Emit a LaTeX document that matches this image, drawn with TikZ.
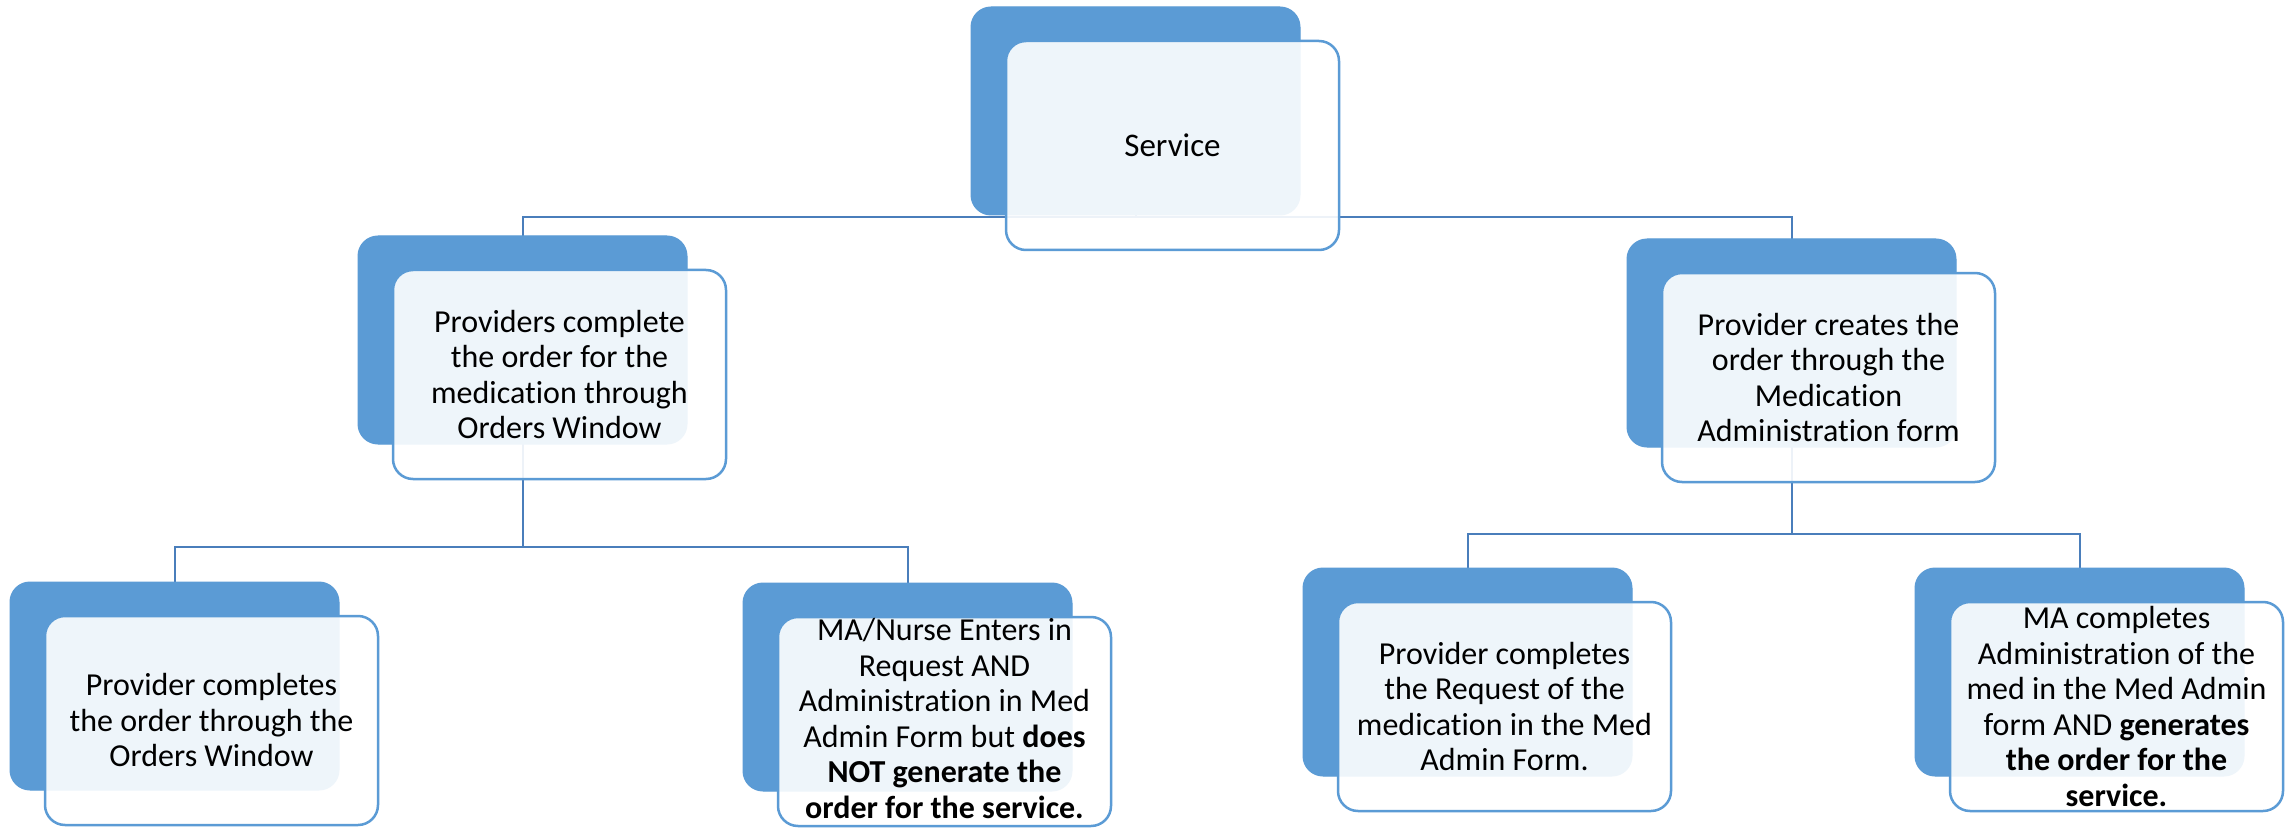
\documentclass[tikz,border=0pt]{standalone}
\usepackage{fontspec}
\setmainfont{Carlito}[Ligatures=NoCommon]
\usetikzlibrary{backgrounds}
\definecolor{acc}{HTML}{5B9BD5}
\definecolor{conncol}{HTML}{4A7EBB}
\begin{document}
\begin{tikzpicture}[x=1pt,y=-1pt,
  backbox/.style={draw=acc, fill=acc, line width=1, rounded corners=20, minimum width=329, minimum height=208, inner sep=0, outer sep=0},
  frontbox/.style={draw=acc, line width=2.5, fill=white, fill opacity=0.9, rounded corners=20, minimum width=333, minimum height=209, inner sep=0, outer sep=0},
  txt/.style={align=center, font=\fontsize{32}{35.5}\selectfont, text=black, inner sep=0},
  conn/.style={draw=conncol, line width=2}]
\useasboundingbox (0,0) rectangle (2295,829);
% back shapes
\node[backbox] (Sb)  at (1135.5,111) {};
\node[backbox] (L1b) at (522.5,340) {};
\node[backbox] (R1b) at (1791.5,343) {};
\node[backbox] (LLb) at (174.5,686) {};
\node[backbox] (LRb) at (907.5,687) {};
\node[backbox] (RLb) at (1467.5,672) {};
\node[backbox] (RRb) at (2079.5,672) {};
% front shapes
\node[frontbox] (Sf)  at (1172.5,145.5) {};
\node[frontbox] (L1f) at (559.5,374.5) {};
\node[frontbox] (R1f) at (1828.5,377.5) {};
\node[frontbox] (LLf) at (211.5,720.5) {};
\node[frontbox] (LRf) at (944.5,721.5) {};
\node[frontbox] (RLf) at (1504.5,706.5) {};
\node[frontbox] (RRf) at (2116.5,706.5) {};
% texts
\node[txt, font=\fontsize{33}{38}\selectfont] (St) at (Sf.center) {Service};
\node[txt] (L1t) at (L1f.center) {Providers complete\\the order for the\\medication through\\Orders Window};
\node[txt] (R1t) at (R1f.center) {Provider creates the\\order through the\\Medication\\Administration form};
\node[txt] (LLt) at (LLf.center) {Provider completes\\the order through the\\Orders Window};
\node[txt] (LRt) at ([yshift=3]LRf.center) {MA/Nurse Enters in\\Request AND\\Administration in Med\\Admin Form but \textbf{does}\\\textbf{NOT generate the}\\\textbf{order for the service.}};
\node[txt] (RLt) at (RLf.center) {Provider completes\\the Request of the\\medication in the Med\\Admin Form.};
\node[txt] (RRt) at (RRf.center) {MA completes\\Administration of the\\med in the Med Admin\\form AND \textbf{generates}\\\textbf{the order for the}\\\textbf{service.}};
% connectors behind
\coordinate (busS) at (0,217);
\coordinate (busL) at (0,547);
\coordinate (busR) at (0,534);
\begin{scope}[on background layer]
  \fill[white] (0,0) rectangle (2295,829);
  \draw[conn] (Sb.center) -- (Sb.center |- busS) -| (L1b.north);
  \draw[conn] (Sb.center |- busS) -| (R1b.north);
  \draw[conn] (L1b.center) -- (L1b.center |- busL) -| (LLb.north);
  \draw[conn] (L1b.center |- busL) -| (LRb.north);
  \draw[conn] (R1b.center) -- (R1b.center |- busR) -| (RLb.north);
  \draw[conn] (R1b.center |- busR) -| (RRb.north);
\end{scope}
\end{tikzpicture}
\end{document}
